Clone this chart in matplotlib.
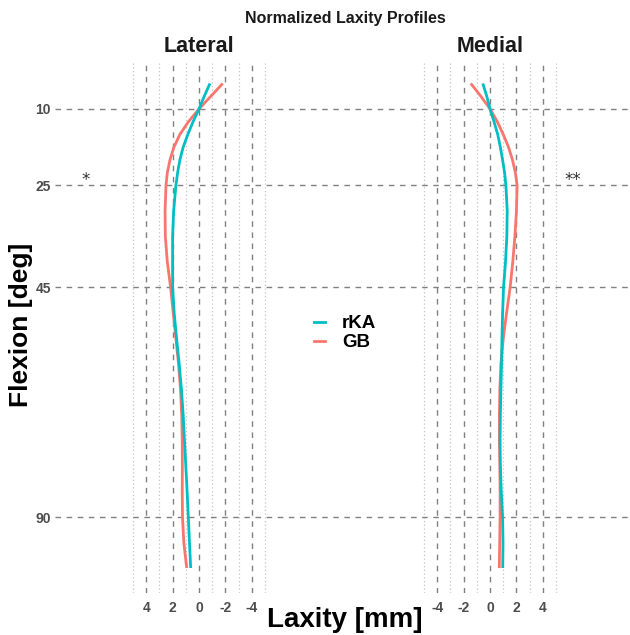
import matplotlib
matplotlib.use("Agg")
import matplotlib.pyplot as plt
from matplotlib.lines import Line2D

plt.rcParams['font.family'] = ['Liberation Sans', 'DejaVu Sans']

# ---- data ----
flexion = [5, 7.5, 10, 12.5, 15, 17.5, 20, 22.5, 25, 30, 35, 40, 45, 50, 55, 60,
           65, 70, 75, 80, 85, 90, 95, 100]
lateral_rka = [-0.83, -0.4, 0.0, 0.45, 0.85, 1.2, 1.45, 1.62, 1.75, 1.92, 2.0, 2.0,
               2.0, 1.88, 1.7, 1.5, 1.33, 1.2, 1.1, 1.0, 0.9, 0.81, 0.72, 0.63]
lateral_gb = [-1.8, -0.9, 0.0, 0.8, 1.45, 1.9, 2.2, 2.4, 2.5, 2.57, 2.55, 2.4,
              2.15, 1.95, 1.75, 1.55, 1.4, 1.31, 1.27, 1.26, 1.27, 1.25, 1.15, 0.93]
medial_rka = [-0.55, -0.25, 0.0, 0.3, 0.58, 0.78, 0.95, 1.1, 1.2, 1.3, 1.27, 1.17,
              1.02, 0.95, 0.9, 0.87, 0.82, 0.78, 0.76, 0.78, 0.85, 0.95, 0.98, 0.96]
medial_gb = [-1.46, -0.7, 0.0, 0.55, 1.0, 1.4, 1.7, 1.92, 2.05, 2.0, 1.88, 1.72,
             1.52, 1.25, 1.0, 0.82, 0.74, 0.71, 0.71, 0.74, 0.76, 0.76, 0.73, 0.7]
flexion_ticks = [10, 25, 45, 90]
laxity_ticks = [-4, -2, 0, 2, 4]
minor_laxity = [-5, -3, -1, 1, 3, 5]
groups = ["rKA", "GB"]
panels = ["Lateral", "Medial"]
significance = ["*", "**"]
sig_flexion = 24.0

RED = "#F8766D"
TEAL = "#00BFC4"
OFFSET = 22.05  # horizontal offset of the medial panel

W, H = 630, 635
fig = plt.figure(figsize=(W / 100, H / 100), dpi=100)
left_px, right_px, top_px, bot_px = 55, 630, 60.5, 592.5
ax = fig.add_axes([left_px / W, 1 - bot_px / H, (right_px - left_px) / W, (bot_px - top_px) / H])
for s in ax.spines.values():
    s.set_visible(False)

ax.set_ylim(104.8, 0.5)
ax.set_xlim((55 - 199) / 13.2, (630 - 199) / 13.2)

def lat_x(v):
    return [-a for a in v]

def med_x(v):
    return [OFFSET + a for a in v]

# vertical grid lines in each panel
for off, sign in [(0, -1), (OFFSET, 1)]:
    for m in minor_laxity:
        ax.axvline(off + sign * m, color="#c4c4c4", lw=0.9, ls=(0, (1, 2)), zorder=1)
    for t in laxity_ticks:
        ax.axvline(off + sign * t, color="#808080", lw=1.0, ls=(0, (4, 4)), zorder=1)

# horizontal lines
for f in flexion_ticks:
    ax.axhline(f, color="#808080", lw=1.0, ls=(0, (4, 4)), zorder=1)

# curves
ax.plot(lat_x(lateral_gb), flexion, color=RED, lw=2.0, zorder=3, solid_capstyle='butt')
ax.plot(lat_x(lateral_rka), flexion, color=TEAL, lw=2.0, zorder=3, solid_capstyle='butt')
ax.plot(med_x(medial_gb), flexion, color=RED, lw=2.0, zorder=3, solid_capstyle='butt')
ax.plot(med_x(medial_rka), flexion, color=TEAL, lw=2.0, zorder=3, solid_capstyle='butt')

# ticks
xt = [-t for t in laxity_ticks] + [OFFSET + t for t in laxity_ticks]
xl = [str(t) for t in laxity_ticks] + [str(t) for t in laxity_ticks]
ax.set_xticks(xt)
ax.set_xticklabels(xl, fontsize=10, fontweight='bold', color="#4d4d4d")
ax.set_yticks(flexion_ticks)
ax.set_yticklabels([str(f) for f in flexion_ticks], fontsize=10, fontweight='bold', color="#4d4d4d")
ax.tick_params(length=0, pad=3)
ax.tick_params(axis='x', pad=6)

# panel titles
for name, cx in zip(panels, [0, OFFSET]):
    ax.text(cx, (bot_px - 47) / (bot_px - top_px), name, transform=ax.get_xaxis_transform(),
            ha='center', va='center', fontsize=15.5, fontweight='bold', color="#1a1a1a")

# significance markers
ax.text((86 - 199) / 13.2, sig_flexion, significance[0], ha='center', va='center',
        fontsize=12, color="#333333", family='DejaVu Sans')
ax.text((573 - 199) / 13.2, sig_flexion, significance[1], ha='center', va='center',
        fontsize=12, color="#333333", family='DejaVu Sans')

fig.text(345 / W, 1 - 19 / H, "Normalized Laxity Profiles", ha='center', va='center',
         fontsize=11.5, fontweight='bold', color="#1a1a1a")
fig.text(345 / W, 1 - 620 / H, "Laxity [mm]", ha='center', va='center',
         fontsize=20, fontweight='bold', color="black")
fig.text(21 / W, 1 - 325 / H, "Flexion [deg]", ha='center', va='center', rotation=90,
         fontsize=19, fontweight='bold', color="black")

handles = [Line2D([], [], color=TEAL, lw=2.0), Line2D([], [], color=RED, lw=2.0)]
leg = fig.legend(handles, groups, loc='center', bbox_to_anchor=(345 / W, 1 - 333 / H),
                 frameon=False, handlelength=0.6, handletextpad=0.9, labelspacing=0.1,
                 prop={'weight': 'bold', 'size': 13.5})

fig.savefig("out.png", dpi=100, facecolor="white")
